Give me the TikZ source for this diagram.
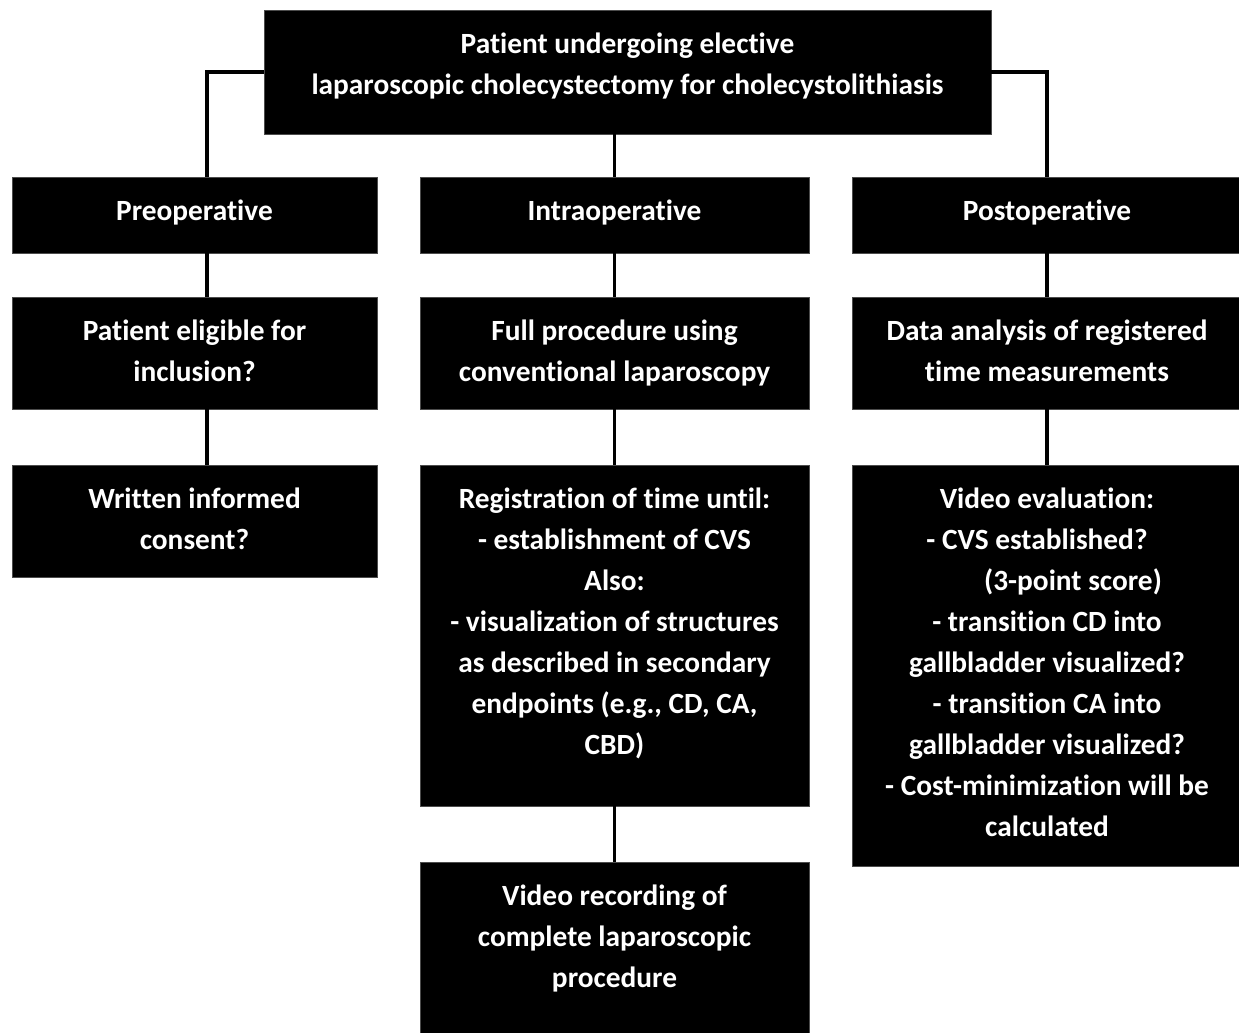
\documentclass[tikz,border=0pt]{standalone}
\usepackage{fontspec}
\setmainfont{Carlito}[Ligatures=NoCommon]
\usetikzlibrary{positioning,calc}

\tikzset{
  blackbox/.style={fill=black, draw=black!70, line width=0.3pt, inner sep=0pt},
  boxtext/.style={text=white, align=center, inner sep=0pt, anchor=north,
    font=\bfseries\fontsize{16.7pt}{23.3pt}\selectfont},
  link/.style={line width=2pt, draw=black}
}

\begin{document}
\begin{tikzpicture}
  \useasboundingbox (0,0) rectangle (24.78,-20.64);
  % boxes
  \node[blackbox, minimum width=14.54cm, minimum height=2.48cm] (top) at (12.55,-1.44) {};
  \node[blackbox, minimum width=7.30cm, minimum height=1.52cm] (pre) at (3.89,-4.30) {};
  \node[blackbox, minimum width=7.78cm, minimum height=1.52cm] (intra) at (12.29,-4.30) {};
  \node[blackbox, minimum width=7.80cm, minimum height=1.52cm] (post) at (20.94,-4.30) {};
  \node[blackbox, minimum width=7.30cm, minimum height=2.24cm] (elig) at (3.89,-7.06) {};
  \node[blackbox, minimum width=7.78cm, minimum height=2.24cm] (full) at (12.29,-7.06) {};
  \node[blackbox, minimum width=7.80cm, minimum height=2.24cm] (data) at (20.94,-7.06) {};
  \node[blackbox, minimum width=7.30cm, minimum height=2.24cm] (consent) at (3.89,-10.42) {};
  \node[blackbox, minimum width=7.78cm, minimum height=6.82cm] (reg) at (12.29,-12.71) {};
  \node[blackbox, minimum width=7.80cm, minimum height=8.02cm] (eval) at (20.94,-13.31) {};
  \node[blackbox, minimum width=7.78cm, minimum height=3.76cm] (rec) at (12.29,-19.12) {};

  % texts
  \node[boxtext] (top-t) at ([yshift=-0.46cm]top.north)
    {Patient undergoing elective\\laparoscopic cholecystectomy for cholecystolithiasis};
  \node[boxtext] (pre-t) at ([yshift=-0.46cm]pre.north) {Preoperative};
  \node[boxtext] (intra-t) at ([yshift=-0.46cm]intra.north) {Intraoperative};
  \node[boxtext] (post-t) at ([yshift=-0.46cm]post.north) {Postoperative};
  \node[boxtext] (elig-t) at ([yshift=-0.46cm]elig.north) {Patient eligible for\\inclusion?};
  \node[boxtext] (full-t) at ([yshift=-0.46cm]full.north) {Full procedure using\\conventional laparoscopy};
  \node[boxtext] (data-t) at ([yshift=-0.46cm]data.north) {Data analysis of registered\\time measurements};
  \node[boxtext] (consent-t) at ([yshift=-0.46cm]consent.north) {Written informed\\consent?};
  \node[boxtext] (reg-t) at ([yshift=-0.46cm]reg.north)
    {Registration of time until:\\- establishment of CVS\\Also:\\- visualization of structures\\as described in secondary\\endpoints (e.g., CD, CA,\\CBD)};
  \node[boxtext] (eval-t) at ([yshift=-0.46cm]eval.north)
    {Video evaluation:\\- CVS established?\hspace*{0.4cm}\mbox{}\\\hspace*{1.04cm}(3-point score)\\- transition CD into\\gallbladder visualized?\\- transition CA into\\gallbladder visualized?\\- Cost-minimization will be\\calculated};
  \node[boxtext] (rec-t) at ([yshift=-0.46cm]rec.north)
    {Video recording of\\complete laparoscopic\\procedure};

  % connectors
  \draw[link] (top.west) -| ([xshift=0.25cm]pre.north);
  \draw[link] (top.east) -| (post.north);
  \draw[link] (top.south -| intra.north) -- (intra.north);
  \draw[link] ([xshift=0.25cm]pre.south) -- ([xshift=0.25cm]elig.north);
  \draw[link] ([xshift=0.25cm]elig.south) -- ([xshift=0.25cm]consent.north);
  \draw[link] (intra.south) -- (full.north);
  \draw[link] (full.south) -- (reg.north);
  \draw[link] (reg.south) -- (rec.north);
  \draw[link] (post.south) -- (data.north);
  \draw[link] (data.south) -- (eval.north);
\end{tikzpicture}
\end{document}
